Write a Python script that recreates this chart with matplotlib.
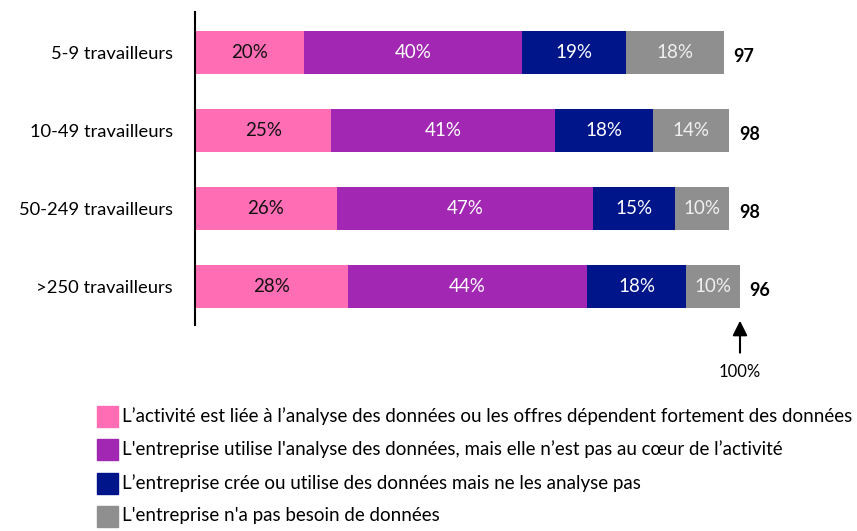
import numpy as np
import matplotlib.pyplot as plt
from matplotlib.patches import Rectangle

plt.rcParams['font.family'] = ['Lato', 'DejaVu Sans']

# Données
categories = ['5-9 travailleurs', '10-49 travailleurs', '50-249 travailleurs', '>250 travailleurs']
lie = [20, 25, 26, 28]
utilise = [40, 41, 47, 44]
cree = [19, 18, 15, 18]
pas_besoin = [18, 14, 10, 10]
totaux = ['97', '98', '98', '96']

series = [lie, utilise, cree, pas_besoin]
couleurs = ['#FF6EB4', '#A227B3', '#00158A', '#8F8F8F']
couleurs_texte = ['#111111', 'white', 'white', '#F0F0F0']
legendes = [
    "L\u2019activité est liée à l\u2019analyse des données ou les offres dépendent fortement des données",
    "L'entreprise utilise l'analyse des données, mais elle n\u2019est pas au cœur de l\u2019activité",
    "L\u2019entreprise crée ou utilise des données mais ne les analyse pas",
    "L'entreprise n'a pas besoin de données",
]

W, H = 857, 531
fig = plt.figure(figsize=(W / 100, H / 100), dpi=100)
ax = fig.add_axes([195 / W, 1 - 325 / H, 654 / W, 313 / H])

y = np.arange(len(categories))
gauche = np.zeros(len(categories))
for vals, c, tc in zip(series, couleurs, couleurs_texte):
    vals = np.array(vals)
    ax.barh(y, vals, left=gauche, height=0.55, color=c, edgecolor='none')
    for yi, l, v in zip(y, gauche, vals):
        ax.text(l + v / 2, yi, f'{v}%', ha='center', va='center', color=tc, fontsize=13.5)
    gauche = gauche + vals

for yi, g, t in zip(y, gauche, totaux):
    ax.annotate(t, (g, yi), xytext=(7, -3), textcoords='offset points',
                ha='left', va='center', fontsize=13, fontweight='bold')

ax.set_xlim(0, 120)
ax.set_ylim(len(categories) - 0.51, -0.52)
ax.set_yticks(y)
ax.set_yticklabels(categories, fontsize=13.2)
ax.tick_params(axis='y', length=0, pad=16)
ax.set_xticks([])
for s in ['top', 'right', 'bottom']:
    ax.spines[s].set_visible(False)
ax.spines['left'].set_linewidth(1.5)

# Flèche 100%
ax.annotate('', xy=(100, 3.40), xytext=(100, 3.88), annotation_clip=False,
            arrowprops=dict(arrowstyle='-|>', color='black', lw=1.5, mutation_scale=22))
ax.text(100, 4.09, '100%', ha='center', va='center', fontsize=12, clip_on=False)

# Légende
rows_y = [416, 449, 483, 516]
for ry, c, lab in zip(rows_y, couleurs, legendes):
    fig.add_artist(Rectangle((97 / W, 1 - (ry + 11) / H), 21 / W, 21 / H,
                             transform=fig.transFigure, color=c))
    fig.text(122 / W, 1 - ry / H, lab, ha='left', va='center', fontsize=13.5)

fig.savefig('out.png', dpi=100)
